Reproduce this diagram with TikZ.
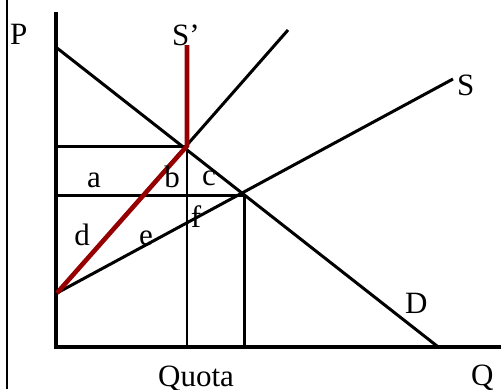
\documentclass[tikz,border=0pt]{standalone}
\usepackage{fontspec}
\setmainfont{Liberation Serif}
\usepackage{tikz}
\usetikzlibrary{calc}
\definecolor{quotared}{RGB}{150,0,0}

\begin{document}
\begin{tikzpicture}[
  x=1pt, y=-1pt,
  font=\fontsize{31}{31}\selectfont,
  axis/.style={line width=3.4pt},
  curve/.style={line width=3pt},
  thin line/.style={line width=1.4pt},
  quota line/.style={line width=4.6pt, draw=quotared},
  lbl/.style={inner sep=0pt, anchor=base}
]
\useasboundingbox (0,0) rectangle (501,389);
% points
\coordinate (orig) at (56,347);
\coordinate (ytop) at (56,12);
\coordinate (xend) at (501,347);
\coordinate (dtop) at (57,48);
\coordinate (dbot) at (437,346);
\coordinate (sbot) at (57,293);
\coordinate (stop) at (453,79);
\coordinate (steep) at (288,30);
\coordinate (kink) at (187,146);
\coordinate (redtop) at (187,45);
\coordinate (eq) at (244,195);
\coordinate (pq) at (56,146);
\coordinate (pe) at (56,195);
% frame and axes
\draw[line width=2pt] (7,0) -- (7,389);
\draw[axis] (ytop) -- (orig) -- (xend);
% curves
\draw[curve] (dtop) -- (dbot);
\draw[curve] (sbot) -- (stop);
\draw[curve] (sbot) -- (steep);
% price lines
\draw[curve] (pq) -- (kink);
\draw[curve] (pe) -- (eq);
\draw[thin line] (kink) -- (kink |- orig);
\draw[curve] (eq) -- (eq |- orig);
% quota supply
\draw[quota line, line join=miter] (sbot) -- (kink) -- (redtop);
% labels
\node[lbl] (p) at (10,44) [anchor=base west] {P};
\node[lbl] (sq) at (172,45) [anchor=base west] {S’};
\node[lbl] (s) at (457,95) [anchor=base west] {S};
\node[lbl] (d) at (405,313) [anchor=base west] {D};
\node[lbl] (q) at (471,385) [anchor=base west] {Q};
\node[lbl] (quota) at (158,386) [anchor=base west] {Quota};
\node[lbl] (la) at (94,187) {a};
\node[lbl] (lb) at (172,187) {b};
\node[lbl] (lc) at (209,185) {c};
\node[lbl] (ld) at (82,245) {d};
\node[lbl] (le) at (146,245) {e};
\node[lbl] (lf) at (196,227) {f};
\end{tikzpicture}
\end{document}
